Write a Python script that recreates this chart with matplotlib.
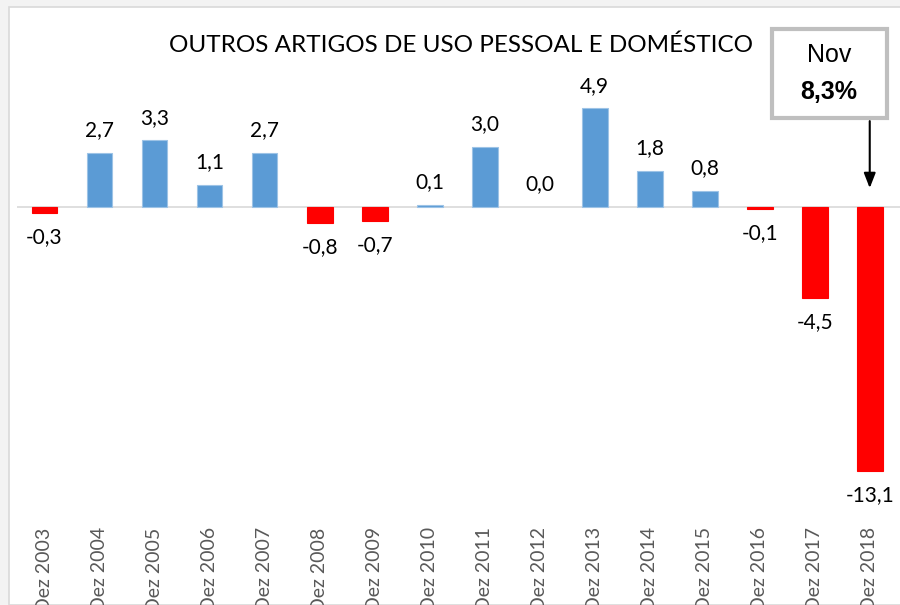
import matplotlib
matplotlib.use("Agg")
from matplotlib import pyplot as plt
from matplotlib.patches import Rectangle

plt.rcParams["font.family"] = ["Lato", "DejaVu Sans"]

# data
labels = ["Dez 2003", "Dez 2004", "Dez 2005", "Dez 2006", "Dez 2007", "Dez 2008",
          "Dez 2009", "Dez 2010", "Dez 2011", "Dez 2012", "Dez 2013", "Dez 2014",
          "Dez 2015", "Dez 2016", "Dez 2017", "Dez 2018"]
values = [-0.3, 2.7, 3.3, 1.1, 2.7, -0.8, -0.7, 0.1, 3.0, 0.0, 4.9, 1.8, 0.8, -0.1, -4.5, -13.1]
title = "OUTROS ARTIGOS DE USO PESSOAL E DOMÉSTICO"
box_month = "Nov"
box_value = "8,3%"

W, H = 900, 605
fig = plt.figure(figsize=(W / 100, H / 100), dpi=100)
fig.patch.set_facecolor("#F3F3F3")
fig.patches.append(Rectangle((9 / W, 0), 1.0, 1 - 7 / H, transform=fig.transFigure,
                             facecolor="white", edgecolor="#D9D9D9", linewidth=1.2, zorder=-5))

ax = fig.add_axes([17 / W, 1 - 519 / H, (W - 17) / W, (519 - 60) / H])
ax.set_facecolor("none")
ax.set_zorder(1)

x = list(range(len(values)))
colours = ["#5B9BD5" if v >= 0 else "#FF0000" for v in values]
edges = ["#9DC3E6" if v >= 0 else "#FF0000" for v in values]
widths = [0.8 if v != 0 else 0 for v in values]
ax.bar(x, values, width=0.47, color=colours, edgecolor=edges, linewidth=widths, zorder=2)
ax.axhline(0, color="#D9D9D9", linewidth=1.2, zorder=1)

for xi, v in zip(x, values):
    txt = f"{v:.1f}".replace(".", ",")
    if v >= 0:
        ax.annotate(txt, (xi, v), xytext=(0, 9), textcoords="offset points",
                    ha="center", va="bottom", fontsize=15, color="black")
    else:
        ax.annotate(txt, (xi, v), xytext=(0, -10), textcoords="offset points",
                    ha="center", va="top", fontsize=15, color="black")

ax.set_xlim(-0.5, 15.55)
ax.set_ylim(-15.47, 7.29)
ax.set_xticks(x)
ax.set_xticklabels(labels, rotation=90, fontsize=14, color="#595959")
ax.tick_params(axis="x", length=0, pad=6)
ax.set_yticks([])
for s in ax.spines.values():
    s.set_visible(False)

fig.text(461 / W, 1 - 45 / H, title, ha="center", va="center", fontsize=17.5, color="black")

# annotation box for last value
fig.patches.append(Rectangle((772 / W, 1 - 118 / H), 115 / W, 89 / H, transform=fig.transFigure,
                             facecolor="white", edgecolor="#BFBFBF", linewidth=3, zorder=5))
fig.text(829 / W, 1 - 55 / H, box_month, ha="center", va="center", fontsize=18,
         family="Liberation Sans", zorder=6)
fig.text(829 / W, 1 - 92 / H, box_value, ha="center", va="center", fontsize=18,
         family="Liberation Sans", fontweight="bold", zorder=6)
ax.annotate("", xy=(15, 0.8), xytext=(15, 4.4),
            arrowprops=dict(arrowstyle="-|>,head_width=0.35,head_length=0.9", color="black", lw=1.5))

fig.savefig("out.png", dpi=100, facecolor=fig.get_facecolor())
